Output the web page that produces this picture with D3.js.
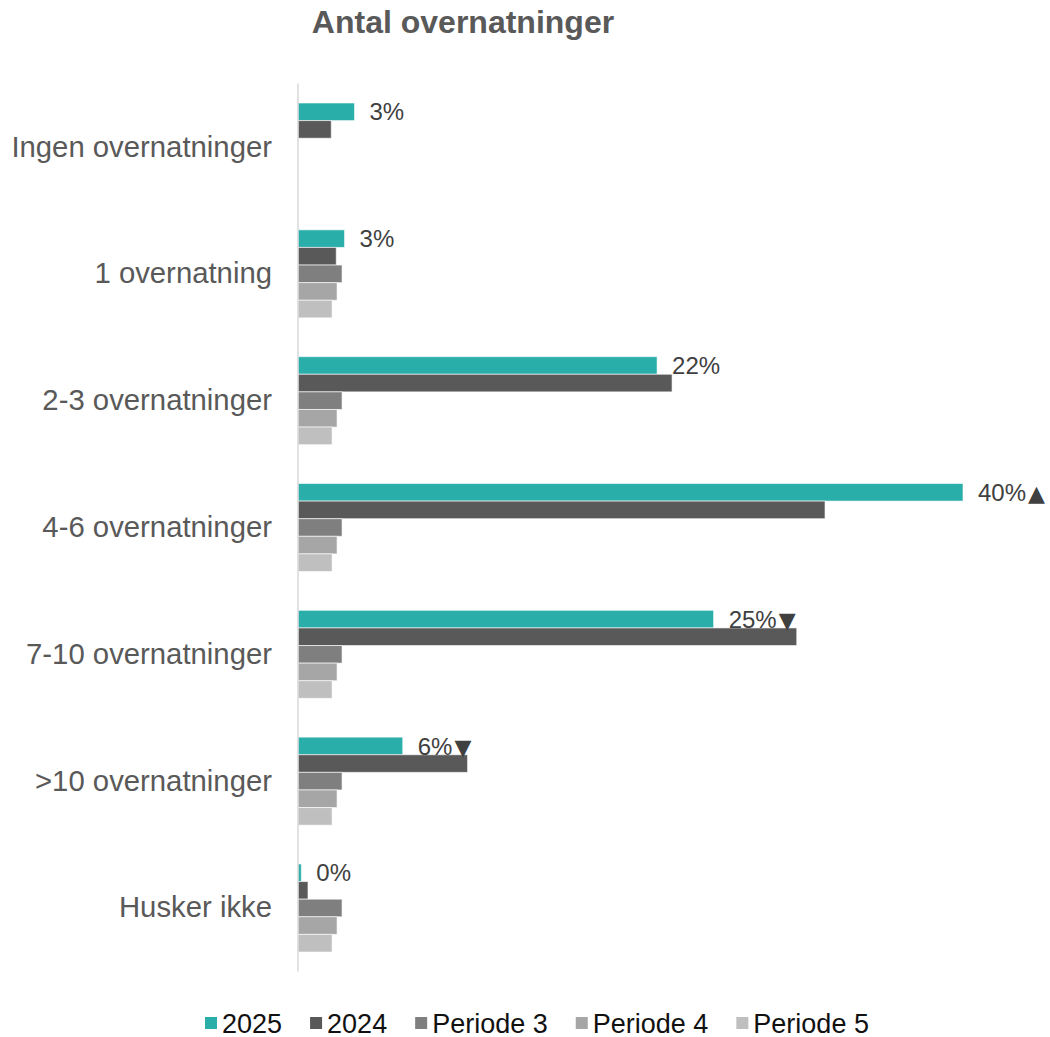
<!DOCTYPE html>
<html>
<head>
<meta charset="utf-8">
<script src="https://cdn.jsdelivr.net/npm/d3@7"></script>
<style>
  html, body { margin: 0; padding: 0; background: #fff; }
  svg { display: block; }
</style>
</head>
<body>
<svg id="chart" width="1050" height="1037"></svg>
<script>
const title = "Antal overnatninger";
const categories = ["Ingen overnatninger", "1 overnatning", "2-3 overnatninger", "4-6 overnatninger", "7-10 overnatninger", ">10 overnatninger", "Husker ikke"];
const seriesNames = ["2025", "2024", "Periode 3", "Periode 4", "Periode 5"];
const seriesColors = ["#2aaeaa", "#595959", "#7f7f7f", "#a6a6a6", "#bfbfbf"];
const values2025 = [3.4, 2.8, 21.6, 40.0, 25.0, 6.3, 0.2];
const values2024 = [2.0, 2.3, 22.5, 31.7, 30.0, 10.2, 0.6];
const valuesP3 = [null, 2.65, 2.65, 2.65, 2.65, 2.65, 2.65];
const valuesP4 = [null, 2.35, 2.35, 2.35, 2.35, 2.35, 2.35];
const valuesP5 = [null, 2.05, 2.05, 2.05, 2.05, 2.05, 2.05];
const labels2025 = ["3%", "3%", "22%", "40%", "25%", "6%", "0%"];
const markers2025 = ["", "", "", "▲", "▼", "▼", ""];

const seriesValues = [values2025, values2024, valuesP3, valuesP4, valuesP5];

const svg = d3.select("#chart");

// Title
svg.append("text")
  .attr("x", 463).attr("y", 33)
  .attr("text-anchor", "middle")
  .attr("font-family", "Liberation Sans, Arial, sans-serif")
  .attr("font-weight", "bold")
  .attr("font-size", 32)
  .attr("fill", "#595959")
  .text(title);

const y0 = d3.scaleBand().domain(categories).range([83.6, 971.4]).paddingInner(0.306).paddingOuter(0.153);
const y1 = d3.scaleBand().domain(seriesNames).range([0, y0.bandwidth()]).padding(0);
const x = d3.scaleLinear().domain([0, 40]).range([298, 963]);

const rows = [];
categories.forEach((c, i) => {
  seriesNames.forEach((s, j) => {
    const v = seriesValues[j][i];
    if (v != null) rows.push({cat: c, series: s, value: v, color: seriesColors[j]});
  });
});

svg.append("g").selectAll("rect").data(rows).join("rect")
  .attr("x", x(0))
  .attr("y", d => y0(d.cat) + y1(d.series))
  .attr("width", d => x(d.value) - x(0))
  .attr("height", y1.bandwidth())
  .attr("fill", d => d.color)
  .attr("stroke", "#ffffff")
  .attr("stroke-opacity", 0.6)
  .attr("stroke-width", 1);

// vertical axis line
svg.append("line")
  .attr("x1", 298).attr("x2", 298)
  .attr("y1", y0.range()[0]).attr("y2", y0.range()[1])
  .attr("stroke", "#d9d9d9").attr("stroke-width", 1.5);

// category labels
svg.append("g").selectAll("text").data(categories).join("text")
  .attr("x", 272)
  .attr("y", d => y0(d) + y0.bandwidth() / 2 + 9.5)
  .attr("text-anchor", "end")
  .attr("font-family", "Liberation Sans, Arial, sans-serif")
  .attr("font-size", 29.3)
  .attr("fill", "#595959")
  .text(d => d);

// data labels for 2025
const lbl = svg.append("g").selectAll("text").data(categories).join("text")
  .attr("x", (d, i) => x(values2025[i]) + 15)
  .attr("y", d => y0(d) + y1("2025") + y1.bandwidth() / 2 + 8.6)
  .attr("font-family", "Liberation Sans, Arial, sans-serif")
  .attr("font-size", 24)
  .attr("fill", "#404040");
lbl.append("tspan").text((d, i) => labels2025[i]);
lbl.append("tspan")
  .attr("dx", 2)
  .attr("font-family", "DejaVu Sans, sans-serif")
  .attr("font-size", 22)
  .text((d, i) => markers2025[i]);

// legend
const legend = svg.append("g").attr("transform", "translate(0,1023)");
let lx = 205;
seriesNames.forEach((s, j) => {
  legend.append("rect").attr("x", lx).attr("y", -6).attr("width", 12).attr("height", 12).attr("fill", seriesColors[j]);
  const t = legend.append("text")
    .attr("x", lx + 17).attr("y", 9.5)
    .attr("font-family", "Liberation Sans, Arial, sans-serif")
    .attr("font-size", 27)
    .attr("fill", "#111111")
    .text(s);
  lx += 17 + t.node().getComputedTextLength() + 28;
});
</script>
</body>
</html>
